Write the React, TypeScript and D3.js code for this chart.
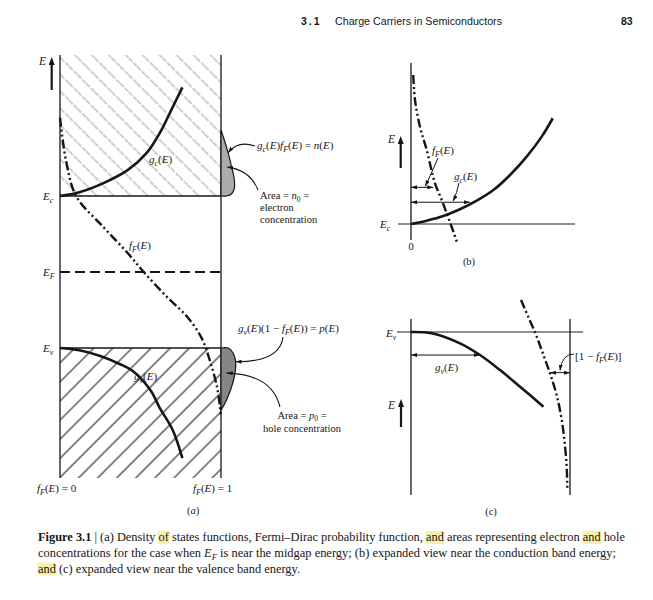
import React, { useEffect, useRef } from "react";
import * as d3 from "d3";

// ---------------- DATA ----------------
// Panel (a): energy with E_F = 0, E_c = +1, E_v = -1; horizontal axis 0..1 (f_F(E) = 0 .. 1)
const levelsA = [
  { key: "Ec", E: 1, label: "E_c", dashed: false },
  { key: "EF", E: 0, label: "E_F", dashed: true },
  { key: "Ev", E: -1, label: "E_v", dashed: false },
];
const energyExtentA: [number, number] = [-2.71, 2.855];
// [g, E]
const gcA: [number, number][] = [[0, 1.0], [0.12, 1.05], [0.27, 1.17], [0.42, 1.34], [0.54, 1.57], [0.62, 1.83], [0.7, 2.17], [0.76, 2.43]];
const gvA: [number, number][] = [[0, -1.0], [0.12, -1.03], [0.25, -1.105], [0.37, -1.21], [0.45, -1.3], [0.56, -1.55], [0.62, -1.79], [0.7, -2.08], [0.76, -2.45]];
// [f, E]
const fFA: [number, number][] = [[0, 2.03], [0.037, 1.47], [0.1, 1.0], [0.27, 0.59], [0.42, 0.25], [0.52, 0], [0.665, -0.33], [0.79, -0.59], [0.88, -0.87], [0.93, -1.16], [0.975, -1.51], [0.994, -1.78], [1.0, -1.9]];
// [E, value] drawn beyond f_F = 1
const nA: [number, number][] = [[1.87, 0], [1.74, 0.02], [1.57, 0.044], [1.38, 0.066], [1.24, 0.081], [1.1, 0.083], [1.03, 0.066], [1.0, 0.035], [1.0, 0]];
const pA: [number, number][] = [[-1.0, 0], [-1.0, 0.045], [-1.07, 0.076], [-1.18, 0.091], [-1.33, 0.087], [-1.51, 0.066], [-1.68, 0.035], [-1.82, 0]];

// Panel (b): energy relative to E_c (0), [g, E]
const gcB: [number, number][] = [[0, 0], [0.098, 0.021], [0.202, 0.05], [0.306, 0.092], [0.411, 0.146], [0.515, 0.212], [0.619, 0.306], [0.723, 0.421], [0.817, 0.546], [0.886, 0.661]];
const fFB: [number, number][] = [[0.014, 0.931], [0.025, 0.775], [0.056, 0.608], [0.098, 0.463], [0.15, 0.254], [0.192, 0.15], [0.223, 0.067], [0.254, -0.017], [0.286, -0.11]];
const arrowsB = [
  { E: 0.229, from: 0, to: 0.139 },
  { E: 0.136, from: 0, to: 0.369 },
];

// Panel (c): energy relative to E_v (0), [g, E]
const gvC: [number, number][] = [[0, 0], [0.13, -0.008], [0.308, -0.071], [0.434, -0.144], [0.56, -0.238], [0.686, -0.342], [0.833, -0.467]];
const oneMinusFC: [number, number][] = [[0.692, 0.2], [0.737, 0.096], [0.787, -0.019], [0.829, -0.133], [0.874, -0.258], [0.916, -0.394], [0.948, -0.55], [0.969, -0.717], [0.98, -0.863], [0.983, -0.977]];
const arrowsC = [
  { E: -0.144, from: 0, to: 0.431 },
  { E: -0.254, from: 0.874, to: 1 },
];

const headerTitle = "Charge Carriers in Semiconductors";
const headerSection = "3.1";
const pageNumber = "83";
const captionBold = "Figure 3.1";
const captionLine1 = " | (a) Density of states functions, Fermi\u2013Dirac probability function, and areas representing electron and hole";
const captionLine2a = "concentrations for the case when ";
const captionLine2b = " is near the midgap energy; (b) expanded view near the conduction band energy;";
const captionLine3 = "and (c) expanded view near the valence band energy.";

// ---------------- HELPERS ----------------
const serif = "'Liberation Serif', 'Times New Roman', serif";
const sans = "'Liberation Sans', Arial, sans-serif";
const INK = "#161616";
const DASHDOT = "9 3 2 3 2 3";

function mathSegs(str: string) {
  const segs: { t: string; it: boolean; sub: boolean }[] = [];
  let roman = false;
  for (let i = 0; i < str.length; i++) {
    let c = str[i];
    let sub = false;
    if (c === "#") { roman = !roman; continue; }
    if (c === "_") { sub = true; i++; c = str[i]; }
    const it = !roman && /[A-Za-z]/.test(c);
    const last = segs[segs.length - 1];
    if (last && last.it === it && last.sub === sub) last.t += c;
    else segs.push({ t: c, it, sub });
  }
  return segs;
}

function M({ x, y, s, size = 11, anchor = "start" }: { x: number; y: number; s: string; size?: number; anchor?: string }) {
  const segs = mathSegs(s);
  let prevSub = false;
  const sh = size * 0.28;
  return (
    <text x={x} y={y} fontSize={size} fontFamily={serif} fill={INK} textAnchor={anchor as any}>
      {segs.map((g, i) => {
        let dy = 0;
        if (g.sub && !prevSub) dy = sh;
        if (!g.sub && prevSub) dy = -sh;
        prevSub = g.sub;
        return (
          <tspan key={i} dy={dy || undefined} fontStyle={g.it ? "italic" : "normal"} fontSize={g.sub ? size * 0.72 : size}>
            {g.t}
          </tspan>
        );
      })}
    </text>
  );
}

const curve = d3.line<[number, number]>().curve(d3.curveCatmullRom.alpha(0.5));

const CAP_Y = [541, 557, 572.5];

export default function App() {
  // scales
  const xA = d3.scaleLinear().domain([0, 1]).range([60, 221]);
  const yA = d3.scaleLinear().domain([-1, 1]).range([348, 196]);
  const xB = d3.scaleLinear().domain([0, 1]).range([411, 571]);
  const yB = d3.scaleLinear().domain([0, 1]).range([224, 64]);
  const xC = d3.scaleLinear().domain([0, 1]).range([411, 570]);
  const yC = d3.scaleLinear().domain([0, -1]).range([332, 492]);

  const pAxy = (arr: [number, number][]) => curve(arr.map(([g, E]) => [xA(g), yA(E)] as [number, number]));
  const blobA = (arr: [number, number][]) => curve(arr.map(([E, v]) => [xA(1 + v), yA(E)] as [number, number])) + "Z";

  const topA = yA(energyExtentA[1]);
  const botA = yA(energyExtentA[0]);

  const capRef = useRef<SVGGElement>(null);
  const l1Ref = useRef<SVGTextElement>(null);
  const l3Ref = useRef<SVGTextElement>(null);

  useEffect(() => {
    const g = d3.select(capRef.current);
    g.selectAll("*").remove();
    const mark = (el: SVGTextElement | null, full: string, word: string, nth: number, baseline: number, pad = 0) => {
      if (!el) return;
      let idx = -1;
      for (let k = 0; k <= nth; k++) idx = full.indexOf(word, idx + 1);
      if (idx < 0) return;
      try {
        const s = el.getStartPositionOfChar(idx + pad).x;
        const e = el.getEndPositionOfChar(idx + word.length - 1 - pad).x;
        g.append("rect").attr("x", s - 0.5).attr("y", baseline - 10).attr("width", e - s + 1).attr("height", 13).attr("fill", "#f3ee9c").attr("opacity", 0.85);
      } catch (err) { /* ignore */ }
    };
    const full1 = captionBold + captionLine1;
    mark(l1Ref.current, full1, " of ", 0, CAP_Y[0], 1);
    mark(l1Ref.current, full1, "and", 0, CAP_Y[0]);
    mark(l1Ref.current, full1, "and", 1, CAP_Y[0]);
    mark(l3Ref.current, captionLine3, "and", 0, CAP_Y[2]);
  }, []);

  const smallArrow = "url(#sa)";

  return (
    <svg width={653} height={600} style={{ position: "absolute", left: 0, top: 0, display: "block" }} xmlns="http://www.w3.org/2000/svg">
      <defs>
        <pattern id="hatchUp" patternUnits="userSpaceOnUse" width={12} height={12} patternTransform="rotate(-45)">
          <line x1={2} y1={0} x2={2} y2={12} stroke="#9c9c9c" strokeWidth={1} strokeDasharray="5 1.5" />
        </pattern>
        <pattern id="hatchDn" patternUnits="userSpaceOnUse" width={13.5} height={13.5} patternTransform="rotate(45)">
          <line x1={2} y1={0} x2={2} y2={13.5} stroke="#2a2a2a" strokeWidth={1.15} />
        </pattern>
        <marker id="big" viewBox="0 0 8 6" refX={1} refY={3} markerWidth={8} markerHeight={6} markerUnits="userSpaceOnUse" orient="auto">
          <path d="M0,0 L8,3 L0,6 z" fill={INK} />
        </marker>
        <marker id="sa" viewBox="0 0 6 4" refX={6} refY={2} markerWidth={6} markerHeight={4} markerUnits="userSpaceOnUse" orient="auto-start-reverse">
          <path d="M0,0 L6,2 L0,4 z" fill={INK} />
        </marker>
      </defs>
      <rect x={0} y={0} width={653} height={600} fill="#fff" />

      {/* header */}
      <text x={301} y={25} fontFamily={sans} fontWeight="bold" fontSize={10.5} fill={INK} letterSpacing={2}>{headerSection}</text>
      <text x={335} y={25} fontFamily={sans} fontSize={10.5} fill={INK} textLength={167} lengthAdjust="spacingAndGlyphs">{headerTitle}</text>
      <text x={621} y={25} fontFamily={sans} fontWeight="bold" fontSize={10.5} fill={INK}>{pageNumber}</text>

      {/* ---------- Panel (a) ---------- */}
      <rect x={xA(0)} y={topA} width={xA(1) - xA(0)} height={yA(1) - topA} fill="url(#hatchUp)" />
      <rect x={xA(0)} y={yA(-1)} width={xA(1) - xA(0)} height={botA - yA(-1)} fill="url(#hatchDn)" />
      <line x1={xA(0)} x2={xA(0)} y1={topA} y2={botA} stroke={INK} strokeWidth={1.3} />
      <line x1={xA(1)} x2={xA(1)} y1={topA} y2={botA} stroke={INK} strokeWidth={1.3} />
      {levelsA.map((l) => (
        <g key={l.key}>
          <line x1={xA(0)} x2={xA(1)} y1={yA(l.E)} y2={yA(l.E)} stroke={INK} strokeWidth={l.dashed ? 2 : 1.4} strokeDasharray={l.dashed ? "10 5" : undefined} />
          <M x={43} y={yA(l.E) + 4} s={l.label} size={11} />
        </g>
      ))}
      {/* blobs */}
      <path d={blobA(nA) || ""} fill="#ababab" stroke={INK} strokeWidth={1.2} />
      <path d={blobA(pA) || ""} fill="#858585" stroke={INK} strokeWidth={1.2} />
      {/* curves */}
      <path d={pAxy(gcA) || ""} fill="none" stroke={INK} strokeWidth={2.6} />
      <path d={pAxy(gvA) || ""} fill="none" stroke={INK} strokeWidth={2.6} />
      <path d={pAxy(fFA) || ""} fill="none" stroke={INK} strokeWidth={2.4} strokeDasharray={DASHDOT} />
      {/* E arrow */}
      <line x1={51.7} x2={51.7} y1={90} y2={64} stroke={INK} strokeWidth={2.2} markerEnd="url(#big)" />
      <M x={39} y={65} s="E" size={11.5} />
      {/* curve labels */}
      <M x={149} y={163} s="g_c(E)" />
      <M x={129} y={249} s="f_F(E)" />
      <M x={134} y={380} s="g_v(E)" />
      <M x={37} y={492} s="f_F(E) = 0" />
      <M x={193} y={492} s="f_F(E) = 1" />
      <M x={193} y={514} s="(a)" anchor="middle" size={10.5} />
      {/* annotations (a) */}
      <path d={`M255,146 Q238,140 ${xA(1 + nA[2][1])},${yA(nA[2][0])}`} fill="none" stroke={INK} strokeWidth={1.1} markerEnd={smallArrow} />
      <M x={257} y={149} s="g_c(E)f_F(E) = n(E)" />
      <path d={`M258,190 Q250,170 ${xA(1 + nA[3][1] * 0.6)},${yA(nA[3][0])}`} fill="none" stroke={INK} strokeWidth={1.1} markerEnd={smallArrow} />
      <M x={260} y={199} s="#Area = #n_0 =" size={10.5} />
      <text x={260} y={211} fontFamily={serif} fontSize={10.5} fill={INK}>electron</text>
      <text x={260} y={223} fontFamily={serif} fontSize={10.5} fill={INK}>concentration</text>

      <path d={`M283,337 Q280,362 ${xA(1 + pA[3][1])},${yA(pA[3][0])}`} fill="none" stroke={INK} strokeWidth={1.1} markerEnd={smallArrow} />
      <M x={238} y={332} s="g_v(E)(1 − f_F(E)) = p(E)" />
      <path d={`M280,407 Q272,374 ${xA(1 + pA[4][1] * 0.4)},${yA(pA[4][0])}`} fill="none" stroke={INK} strokeWidth={1.1} markerEnd={smallArrow} />
      <M x={302} y={418.5} s="#Area = #p_0 =" size={10.5} anchor="middle" />
      <text x={302} y={432} fontFamily={serif} fontSize={10.5} fill={INK} textAnchor="middle">hole concentration</text>

      {/* ---------- Panel (b) ---------- */}
      <line x1={398} x2={575} y1={yB(0)} y2={yB(0)} stroke="#6a6a6a" strokeWidth={1.6} />
      <line x1={xB(0)} x2={xB(0)} y1={63} y2={240} stroke={INK} strokeWidth={1.3} />
      <path d={curve(gcB.map(([g, E]) => [xB(g), yB(E)] as [number, number])) || ""} fill="none" stroke={INK} strokeWidth={2.6} />
      <path d={curve(fFB.map(([g, E]) => [xB(g), yB(E)] as [number, number])) || ""} fill="none" stroke={INK} strokeWidth={2.4} strokeDasharray={DASHDOT} />
      {arrowsB.map((a, i) => (
        <line key={i} x1={xB(a.from)} x2={xB(a.to)} y1={yB(a.E)} y2={yB(a.E)} stroke={INK} strokeWidth={1} markerStart={smallArrow} markerEnd={smallArrow} />
      ))}
      <path d={`M438,158 Q432,172 ${xB(arrowsB[0].to) - 8},${yB(arrowsB[0].E) - 1}`} fill="none" stroke={INK} strokeWidth={1} markerEnd={smallArrow} />
      <M x={432} y={154} s="f_F(E)" />
      <path d={`M459,183 Q457,193 ${xB(arrowsB[1].to) - 17},${yB(arrowsB[1].E) - 1}`} fill="none" stroke={INK} strokeWidth={1} markerEnd={smallArrow} />
      <M x={454} y={180} s="g_c(E)" />
      <line x1={400.7} x2={400.7} y1={168} y2={143} stroke={INK} strokeWidth={2.2} markerEnd="url(#big)" />
      <M x={388} y={143} s="E" size={11.5} />
      <M x={380} y={228} s="E_c" />
      <text x={xB(0)} y={250} fontFamily={serif} fontSize={10.5} fill={INK} textAnchor="middle">0</text>
      <text x={469} y={265} fontFamily={serif} fontSize={10.5} fill={INK} textAnchor="middle">(b)</text>

      {/* ---------- Panel (c) ---------- */}
      <line x1={397} x2={583} y1={yC(0)} y2={yC(0)} stroke="#6a6a6a" strokeWidth={1.6} />
      <line x1={xC(0)} x2={xC(0)} y1={319} y2={495} stroke={INK} strokeWidth={1.3} />
      <line x1={xC(1)} x2={xC(1)} y1={319} y2={495} stroke={INK} strokeWidth={1.3} />
      <path d={curve(gvC.map(([g, E]) => [xC(g), yC(E)] as [number, number])) || ""} fill="none" stroke={INK} strokeWidth={2.6} />
      <path d={curve(oneMinusFC.map(([g, E]) => [xC(g), yC(E)] as [number, number])) || ""} fill="none" stroke={INK} strokeWidth={2.4} strokeDasharray={DASHDOT} />
      {arrowsC.map((a, i) => (
        <line key={i} x1={xC(a.from)} x2={xC(a.to)} y1={yC(a.E)} y2={yC(a.E)} stroke={INK} strokeWidth={1} markerStart={smallArrow} markerEnd={smallArrow} />
      ))}
      <M x={435} y={371} s="g_v(E)" />
      <path d={`M574,354 Q562,354 ${xC(arrowsC[1].from) + 10},${yC(arrowsC[1].E) - 2}`} fill="none" stroke={INK} strokeWidth={1} markerEnd={smallArrow} />
      <M x={575} y={360} s="[1 − f_F(E)]" />
      <line x1={401} x2={401} y1={427} y2={406} stroke={INK} strokeWidth={2.2} markerEnd="url(#big)" />
      <M x={388} y={409} s="E" size={11.5} />
      <M x={386} y={337} s="E_v" />
      <text x={491} y={515} fontFamily={serif} fontSize={10.5} fill={INK} textAnchor="middle">(c)</text>

      {/* ---------- Caption ---------- */}
      <g ref={capRef} />
      <text ref={l1Ref} x={38} y={CAP_Y[0]} fontFamily={serif} fontSize={12.4} fill={INK} textLength={587} lengthAdjust="spacingAndGlyphs">
        <tspan fontWeight="bold">{captionBold}</tspan>
        <tspan>{captionLine1}</tspan>
      </text>
      <text x={38} y={CAP_Y[1]} fontFamily={serif} fontSize={12.4} fill={INK} textLength={578} lengthAdjust="spacingAndGlyphs">
        <tspan>{captionLine2a}</tspan>
        <tspan fontStyle="italic">E</tspan>
        <tspan fontStyle="italic" fontSize={8.5} dy={3}>F</tspan>
        <tspan dy={-3}>{captionLine2b}</tspan>
      </text>
      <text ref={l3Ref} x={38} y={CAP_Y[2]} fontFamily={serif} fontSize={12.4} fill={INK} textLength={262} lengthAdjust="spacingAndGlyphs">
        {captionLine3}
      </text>
    </svg>
  );
}
